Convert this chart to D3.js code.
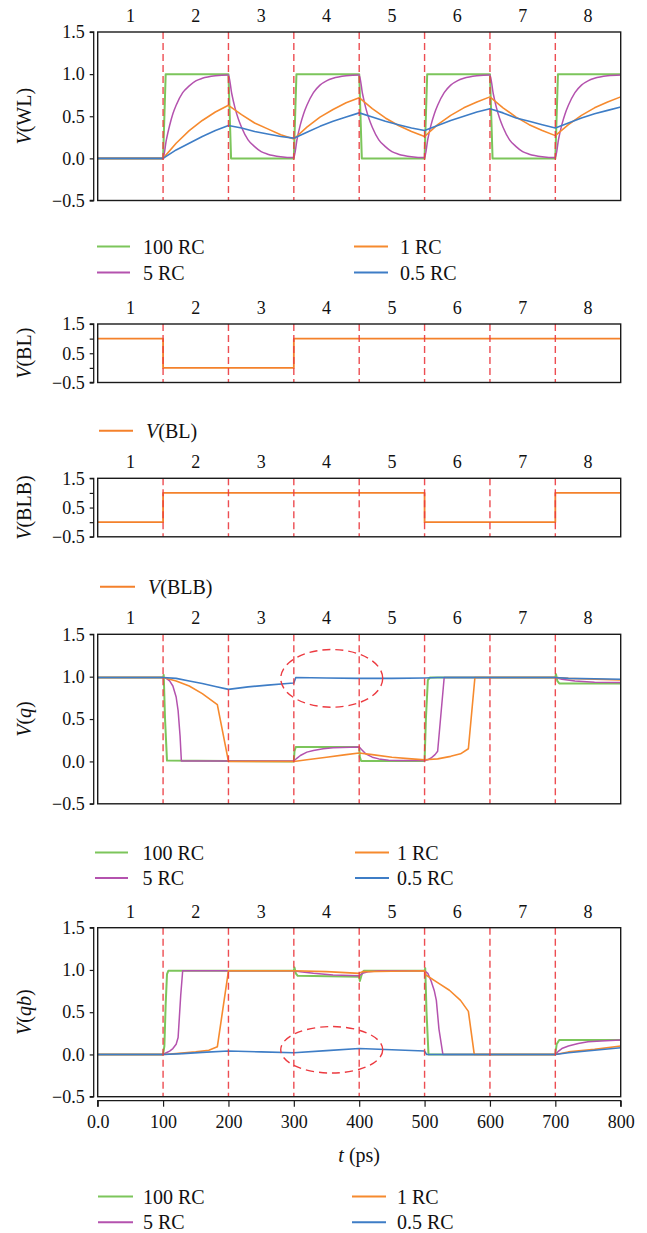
<!DOCTYPE html>
<html><head><meta charset="utf-8">
<script src="https://cdn.jsdelivr.net/npm/d3@7"></script>
<style>
body{margin:0;background:#fff;}
svg{display:block;}
svg text{font-family:"Liberation Serif","DejaVu Serif","Times New Roman",serif;}
</style>
</head><body><svg id="c" width="647" height="1233"></svg>
<script>
// ---------------- DATA ----------------
const phaseLabels = ["1","2","3","4","5","6","7","8"];
const phaseCenters = [50,150,250,350,450,550,650,750];
const phaseBounds = [100,200,300,400,500,600,700];
const xTickValues = [0,100,200,300,400,500,600,700,800];
const xTickLabels = ["0.0","100","200","300","400","500","600","700","800"];
const yTickValues = [-0.5,0,0.5,1,1.5];
const yTickLabelsFull = ["\u22120.5","0.0","0.5","1.0","1.5"];
const yTickLabelsSparse = ["\u22120.5","","0.5","","1.5"];
const seriesNames = ["100 RC","5 RC","1 RC","0.5 RC"];

// V(WL)
const wlGreenT = [0,100,104,200,204,300,304,400,404,500,504,600,604,700,704,800];
const wlGreenV = [0,0,1,1,0,0,1,1,0,0,1,1,0,0,1,1];
const wlPurpleT = [0,
 100,105,110,115,120,130,140,150,160,180,
 200,205,210,215,220,230,240,250,260,280,
 300,305,310,315,320,330,340,350,360,380,
 400,405,410,415,420,430,440,450,460,480,
 500,505,510,515,520,530,540,550,560,580,
 600,605,610,615,620,630,640,650,660,680,
 700,705,710,715,720,730,740,750,760,780,
 800];
const wlPurpleV = [0,
 0,0.22,0.39,0.53,0.63,0.78,0.86,0.92,0.95,0.98,
 0.99,0.77,0.60,0.47,0.37,0.22,0.14,0.08,0.05,0.02,
 0.01,0.23,0.40,0.53,0.63,0.78,0.87,0.92,0.95,0.98,
 0.99,0.77,0.60,0.47,0.37,0.22,0.14,0.08,0.05,0.02,
 0.01,0.23,0.40,0.53,0.63,0.78,0.87,0.92,0.95,0.98,
 0.99,0.77,0.60,0.47,0.37,0.22,0.14,0.08,0.05,0.02,
 0.01,0.23,0.40,0.53,0.63,0.78,0.87,0.92,0.95,0.98,
 0.99];
const wlGridT = [0,20,40,60,80,100,120,140,160,180,200,220,240,260,280,300,320,340,360,380,400,
 420,440,460,480,500,520,540,560,580,600,620,640,660,680,700,720,740,760,780,800];
const wlOrangeV = [0,0,0,0,0,0,0.18,0.33,0.45,0.55,0.63,0.52,0.42,0.35,0.28,0.23,0.37,0.49,0.58,0.66,0.72,
 0.59,0.48,0.39,0.32,0.26,0.40,0.51,0.60,0.67,0.73,0.60,0.49,0.40,0.33,0.27,0.40,0.51,0.60,0.67,0.73];
const wlBlueV = [0,0,0,0,0,0,0.10,0.18,0.26,0.33,0.39,0.36,0.32,0.29,0.26,0.24,0.31,0.38,0.44,0.49,0.54,
 0.49,0.44,0.40,0.36,0.33,0.39,0.45,0.50,0.55,0.59,0.54,0.48,0.44,0.40,0.36,0.42,0.48,0.53,0.57,0.61];

// V(BL), V(BLB)
const blT = [0,100,100,300,300,800];
const blV = [1,1,0,0,1,1];
const blbT = [0,100,100,500,500,700,700,800];
const blbV = [0,0,1,1,0,0,1,1];

// V(q)  [t (ps), V]
const qGreen = [[0,0.99],[100,0.99],[101,1.02],[103,0.5],[106,0.01],[300,0.0],[301,0.12],[303,0.17],
 [400,0.17],[401,0.05],[403,0.005],[500,0.005],[502,0.5],[505,0.96],[508,0.99],[700,0.99],[701,1.03],
 [703,0.95],[706,0.92],[800,0.92]];
const qPurple = [[0,0.99],[100,0.99],[105,0.98],[110,0.95],[115,0.89],[120,0.76],[123,0.6],[126,0.3],
 [128,0.005],[300,0.005],[305,0.04],[310,0.07],[320,0.11],[330,0.13],[345,0.15],[360,0.16],[400,0.17],
 [405,0.13],[410,0.09],[420,0.05],[430,0.03],[445,0.015],[460,0.01],[500,0.01],[505,0.02],[510,0.04],
 [516,0.08],[520,0.12],[530,0.99],[700,0.99],[710,0.97],[730,0.95],[760,0.935],[800,0.93]];
const qOrange = [[0,0.99],[100,0.99],[120,0.95],[140,0.89],[160,0.80],[183,0.67],[200,0.0],[300,0.0],
 [320,0.02],[350,0.05],[380,0.08],[400,0.10],[420,0.08],[450,0.05],[480,0.03],[500,0.02],[520,0.03],
 [540,0.06],[555,0.09],[567,0.15],[577,0.99],[700,0.99],[720,0.98],[760,0.97],[800,0.96]];
const qBlue = [[0,0.99],[100,0.99],[120,0.98],[140,0.95],[160,0.92],[180,0.885],[200,0.85],[230,0.88],
 [260,0.90],[290,0.92],[300,0.925],[303,0.99],[350,0.985],[400,0.98],[450,0.98],[500,0.985],[520,0.99],
 [700,0.99],[720,0.98],[760,0.975],[800,0.97]];

// V(qb)
const qbGreen = [[0,0],[100,0],[102,0.1],[104,0.6],[106,0.95],[108,0.99],[300,0.99],[301,1.03],[303,0.96],
 [306,0.93],[400,0.92],[401,0.87],[404,0.95],[407,0.99],[500,0.99],[501,1.02],[503,0.5],[506,0.0],
 [700,0.0],[702,0.12],[706,0.17],[800,0.17]];
const qbPurple = [[0,0],[100,0],[105,0.02],[110,0.04],[115,0.07],[120,0.12],[123,0.2],[127,0.7],[130,0.99],
 [300,0.99],[310,0.98],[330,0.96],[360,0.94],[400,0.93],[405,0.96],[415,0.98],[430,0.99],[500,0.99],
 [505,0.96],[510,0.87],[515,0.75],[518,0.64],[522,0.3],[528,0.0],[700,0.0],[705,0.04],[710,0.07],
 [720,0.10],[735,0.13],[750,0.15],[770,0.16],[800,0.17]];
const qbOrange = [[0,0],[100,0],[120,0.01],[150,0.03],[170,0.05],[183,0.09],[200,0.99],[300,0.99],
 [350,0.98],[400,0.96],[405,0.98],[450,0.985],[500,0.99],[502,0.94],[520,0.85],[538,0.76],[555,0.64],
 [567,0.51],[576,0.0],[700,0.0],[720,0.03],[760,0.06],[800,0.10]];
const qbBlue = [[0,0],[100,0],[130,0.01],[160,0.025],[200,0.04],[250,0.03],[300,0.02],[350,0.045],
 [400,0.07],[450,0.055],[500,0.04],[503,0.0],[700,0.0],[720,0.02],[760,0.05],[800,0.08]];

// highlight ellipses [centre t, centre V, radius t, radius V]
const qEllipse = [358, 0.98, 78, 0.34];
const qbEllipse = [358, 0.055, 78, 0.275];

// ---------------- STYLE / LAYOUT ----------------
const FONT = "Liberation Serif, DejaVu Serif, serif";
const colors = {"100 RC":"#7cc55b","5 RC":"#b452ae","1 RC":"#f68a2e","0.5 RC":"#3e7dc6"};
const widths = {"100 RC":2,"5 RC":1.5,"1 RC":1.6,"0.5 RC":1.6};
const sigColor = "#f4812b";
const redDash = "#ec3a40";
const zip = (t,v)=>t.map((d,i)=>[d,v[i]]);

const svg = d3.select("#c");
const x = d3.scaleLinear().domain([0,800]).range([97.7,620.7]);

const panels = [
 {top:32, h:168.5, title:[["V",true],["(WL)",false]], sparse:false, curve:true,
  series:[["100 RC",zip(wlGreenT,wlGreenV)],["5 RC",zip(wlPurpleT,wlPurpleV)],
          ["1 RC",zip(wlGridT,wlOrangeV)],["0.5 RC",zip(wlGridT,wlBlueV)]],
  legend:{rows:[246.5,272.5], c1:[97,130,143], c2:[354,388,400]}},
 {top:324, h:58.5, title:[["V",true],["(BL)",false]], sparse:true,
  series:[["V(BL)",zip(blT,blV)]],
  single:{y:430.7, line:[99,133], tx:146, label:"BL"}},
 {top:478.3, h:58.5, title:[["V",true],["(BLB)",false]], sparse:true,
  series:[["V(BLB)",zip(blbT,blbV)]],
  single:{y:586.7, line:[100,135], tx:148, label:"BLB"}},
 {top:634.3, h:169.5, title:[["V",true],["(",false],["q",true],[")",false]], sparse:false,
  series:[["100 RC",qGreen],["5 RC",qPurple],["1 RC",qOrange],["0.5 RC",qBlue]],
  ellipse:qEllipse,
  legend:{rows:[852.5,878], c1:[95,128,142.5], c2:[355,389,397]}},
 {top:927.7, h:169, title:[["V",true],["(",false],["qb",true],[")",false]], sparse:false, xaxis:true,
  series:[["100 RC",qbGreen],["5 RC",qbPurple],["1 RC",qbOrange],["0.5 RC",qbBlue]],
  ellipse:qbEllipse,
  legend:{rows:[1196.5,1222.3], c1:[98,133,143], c2:[352,386,397]}}
];

panels.forEach(p=>{
  const y = d3.scaleLinear().domain([-0.5,1.5]).range([p.top+p.h, p.top]);
  const g = svg.append("g");
  const x0 = x.range()[0], x1 = x.range()[1];

  // data lines
  p.series.forEach(([name,pts])=>{
    const isSig = name.startsWith("V(");
    const line = d3.line().x(d=>x(d[0])).y(d=>y(d[1]))
      .curve(p.curve && name==="5 RC" ? d3.curveMonotoneX : d3.curveLinear);
    g.append("path").datum(pts).attr("d",line).attr("fill","none")
      .attr("stroke", isSig ? sigColor : colors[name])
      .attr("stroke-width", isSig ? 1.8 : widths[name])
      .attr("stroke-linejoin","round");
  });

  // phase boundaries
  g.selectAll(".pb").data(phaseBounds).enter().append("line")
    .attr("x1",d=>x(d)).attr("x2",d=>x(d)).attr("y1",p.top).attr("y2",p.top+p.h)
    .attr("stroke",redDash).attr("stroke-width",1.4).attr("stroke-dasharray","7,4")
    .attr("opacity",0.9);

  // ellipse
  if(p.ellipse){
    const [ct,cv,rt,rv] = p.ellipse;
    g.append("ellipse").attr("cx",x(ct)).attr("cy",y(cv))
      .attr("rx",x(ct+rt)-x(ct)).attr("ry",y(cv-rv)-y(cv))
      .attr("fill","none").attr("stroke",redDash).attr("stroke-width",1.4)
      .attr("stroke-dasharray","8,5");
  }

  // frame
  g.append("rect").attr("x",x0).attr("y",p.top).attr("width",x1-x0).attr("height",p.h)
    .attr("fill","none").attr("stroke","#1a1a1a").attr("stroke-width",1.4);

  // y axis (offset)
  const yAxis = d3.axisLeft(y).tickValues(yTickValues).tickSize(4).tickPadding(5)
    .tickFormat((d,i)=>(p.sparse?yTickLabelsSparse:yTickLabelsFull)[i]);
  const ya = g.append("g").attr("transform",`translate(${x0-4},0)`).call(yAxis)
    .attr("font-family",FONT);
  ya.select(".domain").attr("stroke","#1a1a1a").attr("stroke-width",1.3).attr("d",`M-4,${y(1.5)}H0V${y(-0.5)}H-4`);
  ya.selectAll(".tick line").attr("stroke","#1a1a1a").attr("stroke-width",1.2);
  ya.selectAll(".tick text").attr("font-family",FONT).attr("font-size",18).attr("fill","#111");

  // phase labels
  g.selectAll(".ph").data(phaseLabels).enter().append("text")
    .attr("x",(d,i)=>x(phaseCenters[i])).attr("y",p.top-10).attr("font-family",FONT)
    .attr("text-anchor","middle").attr("font-size",18).attr("fill","#111").text(d=>d);

  // y title
  const yc = p.top + p.h/2;
  const t = g.append("text").attr("transform",`translate(31,${yc}) rotate(-90)`)
    .attr("text-anchor","middle").attr("font-size",20).attr("font-family",FONT).attr("fill","#111");
  p.title.forEach(([s,it])=>t.append("tspan").attr("font-style",it?"italic":"normal").text(s));

  // x axis
  if(p.xaxis){
    const xAxis = d3.axisBottom(x).tickValues(xTickValues).tickSize(6).tickPadding(9)
      .tickFormat((d,i)=>xTickLabels[i]);
    const xa = g.append("g").attr("transform",`translate(0,${p.top+p.h+4})`).call(xAxis)
      .attr("font-family",FONT);
    xa.select(".domain").attr("stroke","#1a1a1a").attr("stroke-width",1.3).attr("d",`M${x0},6V0H${x1}V6`);
    xa.selectAll(".tick line").attr("stroke","#1a1a1a").attr("stroke-width",1.2);
    xa.selectAll(".tick text").attr("font-family",FONT).attr("font-size",18).attr("fill","#111");
    const xt = g.append("text").attr("x",(x0+x1)/2).attr("y",p.top+p.h+65).attr("font-family",FONT)
      .attr("text-anchor","middle").attr("font-size",20).attr("fill","#111");
    xt.append("tspan").attr("font-style","italic").text("t");
    xt.append("tspan").text(" (ps)");
  }

  // legends
  if(p.legend){
    const L = p.legend;
    const entries = [[seriesNames[0],L.c1,L.rows[0]],[seriesNames[1],L.c1,L.rows[1]],
                     [seriesNames[2],L.c2,L.rows[0]],[seriesNames[3],L.c2,L.rows[1]]];
    entries.forEach(([name,c,ry])=>{
      g.append("line").attr("x1",c[0]).attr("x2",c[1]).attr("y1",ry).attr("y2",ry)
        .attr("stroke",colors[name]).attr("stroke-width",2);
      g.append("text").attr("x",c[2]).attr("y",ry+7).attr("font-family",FONT)
        .attr("font-size",20).attr("fill","#111").text(name);
    });
  }
  if(p.single){
    const s = p.single;
    g.append("line").attr("x1",s.line[0]).attr("x2",s.line[1]).attr("y1",s.y).attr("y2",s.y)
      .attr("stroke",sigColor).attr("stroke-width",2);
    const tt = g.append("text").attr("x",s.tx).attr("y",s.y+7).attr("font-family",FONT)
      .attr("font-size",20).attr("fill","#111");
    tt.append("tspan").attr("font-style","italic").text("V");
    tt.append("tspan").text("("+s.label+")");
  }
});
</script>
</body></html>
